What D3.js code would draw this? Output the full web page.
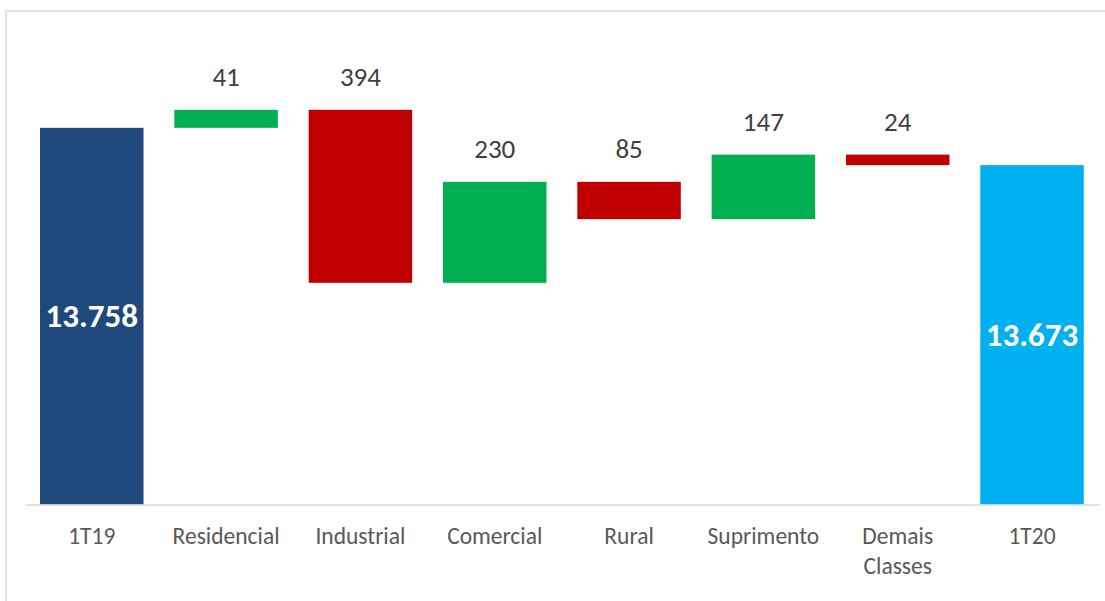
<!DOCTYPE html>
<html><head><meta charset="utf-8">
<script src="https://cdn.jsdelivr.net/npm/d3@7/dist/d3.min.js"></script>
<style>
html,body{margin:0;padding:0;background:#fff;}
svg{display:block;}
text{font-family:Carlito,Calibri,"Open Sans","Noto Sans",sans-serif;}
</style></head>
<body>
<svg id="chart" width="1105" height="601"></svg>
<script>
const categories = ["1T19","Residencial","Industrial","Comercial","Rural","Suprimento","Demais Classes","1T20"];
const deltas = [13758, 41, -394, 230, -85, 147, -24, 13673];
const kinds = ["total","delta","delta","delta","delta","delta","delta","total"];
const labels = ["13.758","41","394","230","85","147","24","13.673"];
const yDomain = [12900, 13900];

const colors = {totalStart:"#1F497D", totalEnd:"#00B0F0", up:"#00B050", down:"#C00000"};

// compute waterfall segments
let running = 0;
const data = categories.map((c,i)=>{
  let y0,y1,color;
  if(kinds[i]==="total"){
    y0 = yDomain[0]; y1 = deltas[i]; running = deltas[i];
    color = i===0 ? colors.totalStart : colors.totalEnd;
  } else {
    const start = running; const end = running + deltas[i];
    y0 = Math.min(start,end); y1 = Math.max(start,end); running = end;
    color = deltas[i] >= 0 ? colors.up : colors.down;
  }
  return {cat:c, y0, y1, color, kind:kinds[i], label:labels[i]};
});

const svg = d3.select("#chart");
// outer border
svg.append("rect").attr("x",6).attr("y",11).attr("width",1110).attr("height",600)
  .attr("fill","none").attr("stroke","#d9d9d9").attr("stroke-width",1.5);

const pad = 0.2295;
const x = d3.scaleBand().domain(categories).range([24.6,1099.2]).paddingInner(pad).paddingOuter(pad/2);
const y = d3.scaleLinear().domain(yDomain).range([504.5,65.5]);

svg.append("g").selectAll("rect").data(data).join("rect")
  .attr("x",d=>x(d.cat)).attr("width",x.bandwidth())
  .attr("y",d=>y(d.y1)).attr("height",d=>y(d.y0)-y(d.y1))
  .attr("fill",d=>d.color);

// x axis
const xAxis = svg.append("g").attr("transform","translate(0,504.5)")
  .call(d3.axisBottom(x).tickSize(0).tickPadding(0));
xAxis.select(".domain").attr("stroke","#d9d9d9").attr("stroke-width",1.3);
xAxis.selectAll(".tick text").remove();
xAxis.selectAll(".tick").each(function(d){
  const words = d.split(" ");
  const t = d3.select(this).append("text").attr("fill","#595959").attr("font-size",23.5)
    .attr("text-anchor","middle");
  words.forEach((w,k)=>t.append("tspan").attr("x",0).attr("y",39+k*30).text(w));
});

// value labels
const lab = svg.append("g");
data.forEach(d=>{
  const cx = x(d.cat)+x.bandwidth()/2;
  if(d.kind==="total"){
    lab.append("text").attr("x",cx).attr("y",(y(d.y0)+y(d.y1))/2).attr("dy","0.34em")
      .attr("text-anchor","middle").attr("fill","#fff").attr("font-weight","bold")
      .attr("font-size",33).text(d.label);
  } else {
    lab.append("text").attr("x",cx).attr("y",y(d.y1)-33).attr("dy","0.34em")
      .attr("text-anchor","middle").attr("fill","#404040")
      .attr("font-size",27).text(d.label);
  }
});
</script>
</body></html>
